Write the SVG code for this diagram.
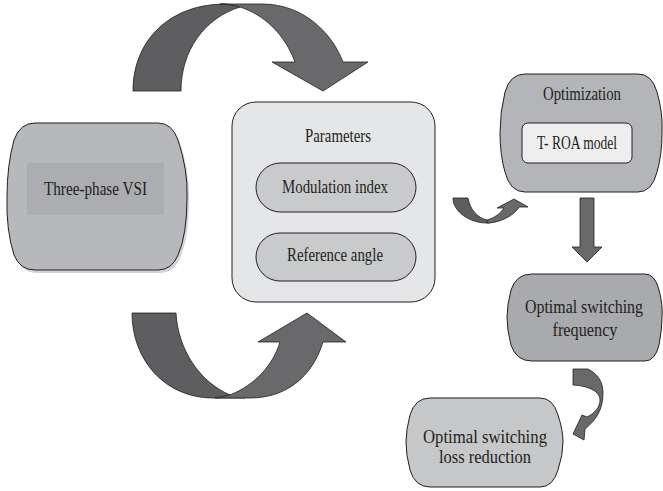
<svg xmlns="http://www.w3.org/2000/svg" width="663" height="491" viewBox="0 0 663 491">
<style>
text{font-family:"Liberation Serif","Times New Roman",serif;font-size:19.5px;fill:#231f20;text-anchor:middle}
.sm{font-size:18px}
.n{stroke:#231f20;stroke-width:1}
.a1{fill:#5e5e61;stroke:#231f20;stroke-width:0.8}
.a2{fill:#69696c;stroke:#231f20;stroke-width:0.8}
</style>
<rect width="663" height="491" fill="#ffffff"/>
<g id="connectors">
<path class="a1" d="M133,91 C133,40 170,4 225,4 C233,5 238,6 240,7 C205,18 181,50 181,91 Z"/>
<path class="a2" d="M220,4 L262,4 C305,4 333,35 343,62 L368,62 L323,91 L272,62 L295,62 C285,35 265,15 240,7 C233,5 226,4 220,4 Z"/>
<path class="a1" d="M132,313 L176,313 C178,350 200,382 230,395 L245,398 L213,398 C165,398 132,360 132,313 Z"/>
<path class="a2" d="M230,395 C255,385 273,365 280,342 L258,342 L307,313 L346,342 L323,342 C312,378 285,398 250,398 L215,398 Z"/>
<path class="a1" d="M453,198 L468,198 C470,210 478,218 487,220 L490,223 L487,223 C470,223 453,212 453,198 Z"/>
<path class="a2" d="M487,220 C494,218 500,214 504,208 L497,208 L514,199 L528,207 L519,207 C515,215 500,223 487,223 Z"/>
<path class="a2" d="M580,198 L594,198 L594,247 L602,247 L587,262 L572,247 L580,247 Z"/>
<path class="a2" d="M573,369 L588,369 C598,374 603,382 603,393 C603,410 596,420 585,429 L584,440 L573,434 L582,415 L587,417 C595,413 600,407 600,400 C600,392 590,386 573,385 Z"/>
</g>
<g id="vsi">
<path fill="#d4d4d6" d="M37,126 L160,126 Q174,126 180,143 Q190,173 189,200 Q189,238 180,258 Q174,273 160,273 L37,273 Q22,273 16,258 Q8,233 9,200 Q9,168 16,143 Q22,126 37,126 Z"/>
<path class="n" fill="#b7b8bb" d="M35,123 L158,123 Q172,123 178,140 Q188,170 187,197 Q187,235 178,255 Q172,270 158,270 L35,270 Q20,270 14,255 Q6,230 7,197 Q7,165 14,140 Q20,123 35,123 Z"/>
<rect x="27" y="163" width="137" height="52" fill="#acadb0"/>
<text x="95.5" y="195" textLength="103" lengthAdjust="spacingAndGlyphs">Three-phase VSI</text>
</g>
<g id="parameters">
<rect class="n" x="232" y="102" width="203" height="200" rx="24" fill="#e5e6e8"/>
<text x="338" y="142" textLength="66" lengthAdjust="spacingAndGlyphs">Parameters</text>
</g>
<g id="modulation">
<rect class="n" x="256" y="163" width="160" height="49" rx="24.5" fill="#c9cacc"/>
<text x="335" y="193" textLength="106" lengthAdjust="spacingAndGlyphs">Modulation index</text>
</g>
<g id="reference">
<rect class="n" x="256" y="233" width="160" height="48" rx="24" fill="#c9cacc"/>
<text x="335" y="261" textLength="96" lengthAdjust="spacingAndGlyphs">Reference angle</text>
</g>
<g id="optimization">
<path class="n" fill="#b4b5b8" d="M525,74 L638,74 Q652,74 657,92 Q663,112 662,133 Q662,155 657,172 Q652,192 638,192 L525,192 Q510,192 505,172 Q500,155 500,133 Q500,112 505,92 Q510,74 525,74 Z"/>
<text x="582" y="100" textLength="78" lengthAdjust="spacingAndGlyphs">Optimization</text>
</g>
<g id="troa">
<rect class="n" x="522" y="123" width="110" height="40" rx="6" fill="#eeeeef"/>
<text x="577" y="149" textLength="80" lengthAdjust="spacingAndGlyphs">T- ROA model</text>
</g>
<g id="frequency">
<path class="n" fill="#a9aaad" d="M532,274 L645,274 Q655,274 659,290 Q663,305 662,317 Q662,330 659,345 Q655,361 645,361 L532,361 Q516,361 511,345 Q507,330 507,317 Q507,305 511,290 Q516,274 532,274 Z"/>
<text class="sm" x="584" y="313" textLength="118" lengthAdjust="spacingAndGlyphs">Optimal switching</text>
<text class="sm" x="585" y="336" textLength="65" lengthAdjust="spacingAndGlyphs">frequency</text>
</g>
<g id="loss">
<path class="n" fill="#c6c7c9" d="M430,398 L540,398 Q553,398 558,415 Q563,430 563,442 Q563,455 558,470 Q553,487 540,487 L430,487 Q415,487 410,470 Q406,455 406,442 Q406,430 410,415 Q415,398 430,398 Z"/>
<text x="485" y="443" textLength="124" lengthAdjust="spacingAndGlyphs">Optimal switching</text>
<text x="485" y="463" textLength="92" lengthAdjust="spacingAndGlyphs">loss reduction</text>
</g>
</svg>
